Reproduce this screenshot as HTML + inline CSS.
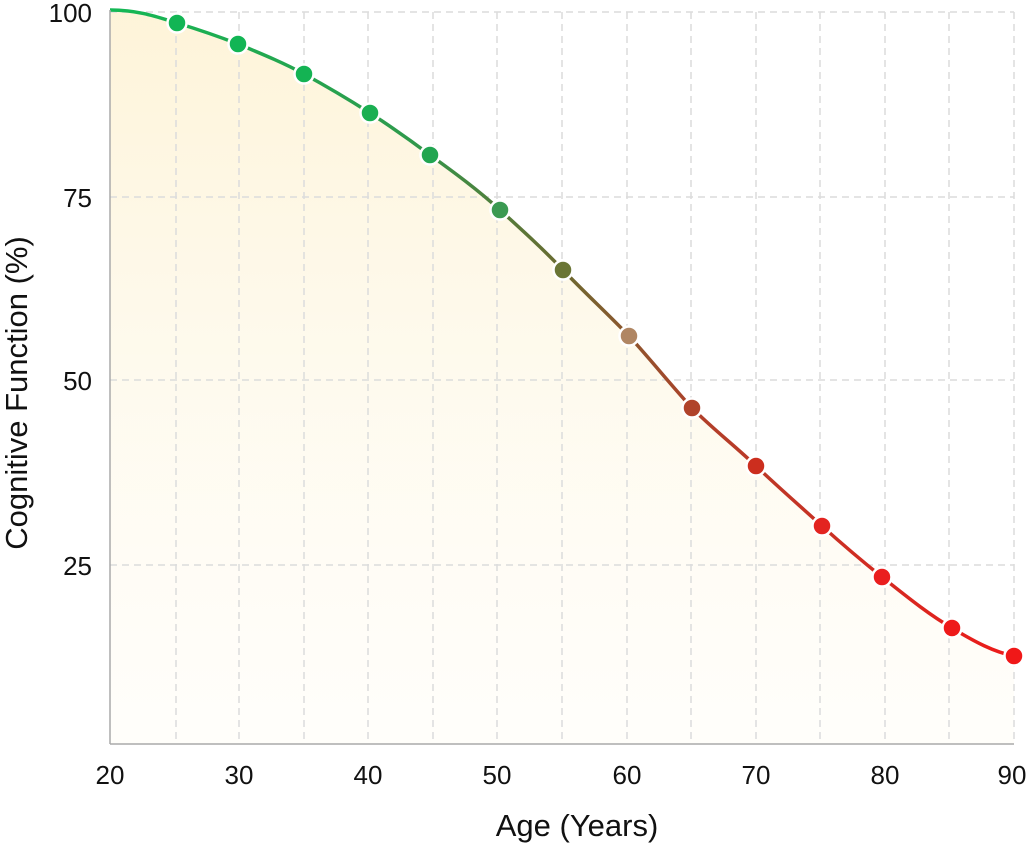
<!DOCTYPE html>
<html><head><meta charset="utf-8"><style>
html,body{margin:0;padding:0;background:#fff;}
svg text{font-family:"Liberation Sans",sans-serif;fill:#111;}
</style></head><body>
<svg width="1030" height="844" viewBox="0 0 1030 844" xmlns="http://www.w3.org/2000/svg">
<defs>
<linearGradient id="fill" x1="0" y1="0" x2="0" y2="1">
<stop offset="0" stop-color="#fdf1cf" stop-opacity="0.8"/>
<stop offset="1" stop-color="#fffbf0" stop-opacity="0.3"/>
</linearGradient>
<linearGradient id="ln" x1="110" y1="0" x2="1014" y2="0" gradientUnits="userSpaceOnUse">
<stop offset="0" stop-color="#14b855"/>
<stop offset="0.33" stop-color="#2e9a4c"/>
<stop offset="0.5" stop-color="#6b6a30"/>
<stop offset="0.65" stop-color="#b0402a"/>
<stop offset="1" stop-color="#ee1a1a"/>
</linearGradient>
</defs>
<path d="M110,10 C140,10 160,18 177,23 C200,30 220,37 238,44 C262,54 284,63 304,74 C326,86 348,99 370,113 C390,126 410,140 430,155 C455,173 478,190 500,210 C522,230 543,249 563,270 C586,294 608,314 629,336 C651,360 670,384 692,408 C714,430 734,445 756,466 C778,487 800,506 822,526 C842,544 862,561 882,577 C906,596 928,614 952,628 C975,642 994,652 1014,656 L1014,744 L110,744 Z" fill="url(#fill)"/>
<g stroke="#dcdcdc" stroke-width="1.5" stroke-dasharray="7,5">
<line x1="110" y1="12" x2="1014" y2="12"/>
<line x1="110" y1="197" x2="1014" y2="197"/>
<line x1="110" y1="380" x2="1014" y2="380"/>
<line x1="110" y1="565" x2="1014" y2="565"/>
<line x1="176" y1="12" x2="176" y2="744"/>
<line x1="239" y1="12" x2="239" y2="744"/>
<line x1="304" y1="12" x2="304" y2="744"/>
<line x1="368" y1="12" x2="368" y2="744"/>
<line x1="433" y1="12" x2="433" y2="744"/>
<line x1="497" y1="12" x2="497" y2="744"/>
<line x1="562" y1="12" x2="562" y2="744"/>
<line x1="627" y1="12" x2="627" y2="744"/>
<line x1="691" y1="12" x2="691" y2="744"/>
<line x1="756" y1="12" x2="756" y2="744"/>
<line x1="820" y1="12" x2="820" y2="744"/>
<line x1="885" y1="12" x2="885" y2="744"/>
<line x1="949" y1="12" x2="949" y2="744"/>
<line x1="1014" y1="12" x2="1014" y2="744"/>
</g>
<path d="M110,10 C140,10 160,18 177,23 C200,30 220,37 238,44 C262,54 284,63 304,74 C326,86 348,99 370,113 C390,126 410,140 430,155 C455,173 478,190 500,210 C522,230 543,249 563,270 C586,294 608,314 629,336 C651,360 670,384 692,408 C714,430 734,445 756,466 C778,487 800,506 822,526 C842,544 862,561 882,577 C906,596 928,614 952,628 C975,642 994,652 1014,656" fill="none" stroke="url(#ln)" stroke-width="3.5"/>
<line x1="110" y1="10" x2="110" y2="744" stroke="#aaa" stroke-width="1.5"/>
<line x1="110" y1="744" x2="1014" y2="744" stroke="#aaa" stroke-width="1.5"/>
<g stroke="#fff" stroke-width="2.5">
<circle cx="177" cy="23" r="9.5" fill="#12b554"/>
<circle cx="238" cy="44" r="9.5" fill="#12b554"/>
<circle cx="304" cy="74" r="9.5" fill="#14b353"/>
<circle cx="370" cy="113" r="9.5" fill="#1aaf52"/>
<circle cx="430" cy="155" r="9.5" fill="#22a551"/>
<circle cx="500" cy="210" r="9.5" fill="#3b9a52"/>
<circle cx="563" cy="270" r="9.5" fill="#6a7535"/>
<circle cx="629" cy="336" r="9.5" fill="#b08663"/>
<circle cx="692" cy="408" r="9.5" fill="#b0432a"/>
<circle cx="756" cy="466" r="9.5" fill="#cc2e1e"/>
<circle cx="822" cy="526" r="9.5" fill="#e32420"/>
<circle cx="882" cy="577" r="9.5" fill="#ea1e1e"/>
<circle cx="952" cy="628" r="9.5" fill="#ee1a1a"/>
<circle cx="1014" cy="656" r="9.5" fill="#f01818"/>
</g>
<g font-size="26" text-anchor="end">
<text x="92" y="22">100</text>
<text x="92" y="207">75</text>
<text x="92" y="390">50</text>
<text x="92" y="575">25</text>
</g>
<g font-size="26" text-anchor="middle">
<text x="110" y="784">20</text>
<text x="239" y="784">30</text>
<text x="368" y="784">40</text>
<text x="497" y="784">50</text>
<text x="627" y="784">60</text>
<text x="756" y="784">70</text>
<text x="885" y="784">80</text>
<text x="1012" y="784">90</text>
</g>
<text x="577" y="836" font-size="31" text-anchor="middle">Age (Years)</text>
<text transform="translate(27,393) rotate(-90)" font-size="31" text-anchor="middle">Cognitive Function (%)</text>
</svg>
</body></html>
